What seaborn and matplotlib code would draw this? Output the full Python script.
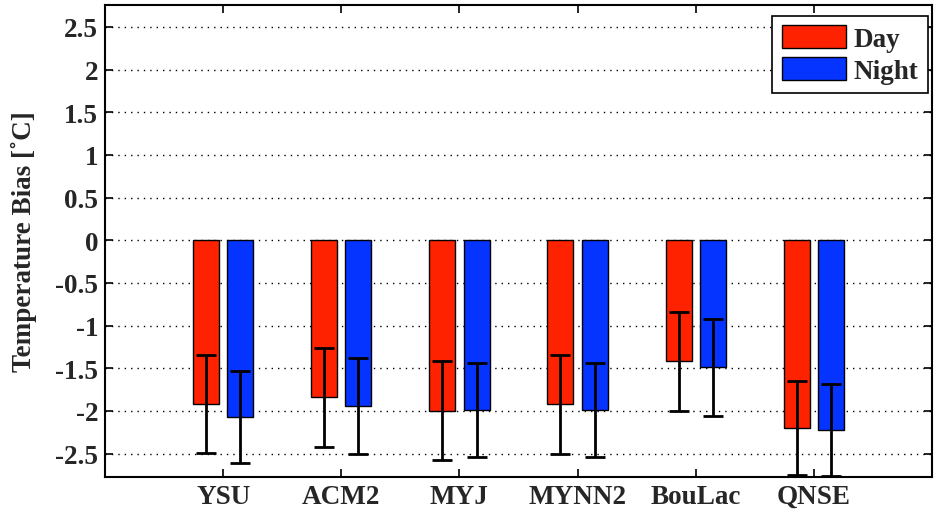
import numpy as np
import pandas as pd
import matplotlib
matplotlib.use("Agg")
import matplotlib.pyplot as plt
import seaborn as sns

schemes = ["YSU", "ACM2", "MYJ", "MYNN2", "BouLac", "QNSE"]
day_bias = [-1.92, -1.84, -2.00, -1.92, -1.42, -2.20]
night_bias = [-2.07, -1.94, -1.99, -1.99, -1.49, -2.22]
day_err = [0.575, 0.58, 0.58, 0.58, 0.58, 0.555]
night_err = [0.54, 0.565, 0.55, 0.55, 0.57, 0.54]
periods = ["Day", "Night"]
yticks = [-2.5, -2, -1.5, -1, -0.5, 0, 0.5, 1, 1.5, 2, 2.5]

red = "#FF2200"
blue = "#0533FF"
fs = 19.5

sns.set_theme(style="ticks")
plt.rcParams["font.family"] = ["Liberation Serif", "DejaVu Serif"]
plt.rcParams["font.weight"] = "bold"
plt.rcParams["axes.labelweight"] = "bold"

df = pd.DataFrame({
    "scheme": schemes * 2,
    "bias": day_bias + night_bias,
    "period": [periods[0]] * len(schemes) + [periods[1]] * len(schemes),
})

fig = plt.figure(figsize=(9.34, 5.10), dpi=100)
ax = fig.add_axes([0.1124, 0.0627, 0.8855, 0.9253])

sns.barplot(data=df, x="scheme", y="bias", hue="period", order=schemes,
            hue_order=periods, palette=[red, blue], width=0.58, gap=0.24,
            edgecolor="black", linewidth=1.0, errorbar=None, ax=ax,
            saturation=1, zorder=2)

for cont, vals, errs in zip(ax.containers, [day_bias, night_bias], [day_err, night_err]):
    xs = [b.get_x() + b.get_width() / 2 for b in cont]
    ax.errorbar(xs, vals, yerr=errs, fmt="none", ecolor="black",
                elinewidth=2.0, capsize=7.5, capthick=2.0, zorder=3)

ax.set_xlim(-1, len(schemes))
ax.set_ylim(-2.775, 2.755)
ax.set_yticks(yticks)
ax.set_yticklabels([f"{v:g}" for v in yticks])
ax.set_xlabel("")
ax.set_ylabel("Temperature Bias [˚C]", fontsize=fs, fontweight="bold", labelpad=13)

ax.set_axisbelow(True)
ax.yaxis.grid(True, linestyle=(0, (1, 3.6)), color="black", linewidth=1.0)
ax.xaxis.grid(False)

for s in ax.spines.values():
    s.set_visible(True)
    s.set_linewidth(1.5)
    s.set_color("black")
ax.tick_params(axis="both", direction="in", length=6, width=1.2, labelsize=fs,
               top=True, right=True, color="black", pad=5)
for lab in ax.get_xticklabels() + ax.get_yticklabels():
    lab.set_fontweight("bold")

handles, labels = ax.get_legend_handles_labels()
leg = ax.legend(handles, labels, loc="upper right", bbox_to_anchor=(0.995, 0.978),
                frameon=True, fancybox=False, edgecolor="black", framealpha=1,
                prop={"size": fs, "weight": "bold"}, handlelength=2.35,
                handleheight=0.95, labelspacing=0.18, handletextpad=0.3,
                borderpad=0.35, borderaxespad=0)
leg.get_frame().set_linewidth(1.2)

fig.savefig("out.png", dpi=100)
